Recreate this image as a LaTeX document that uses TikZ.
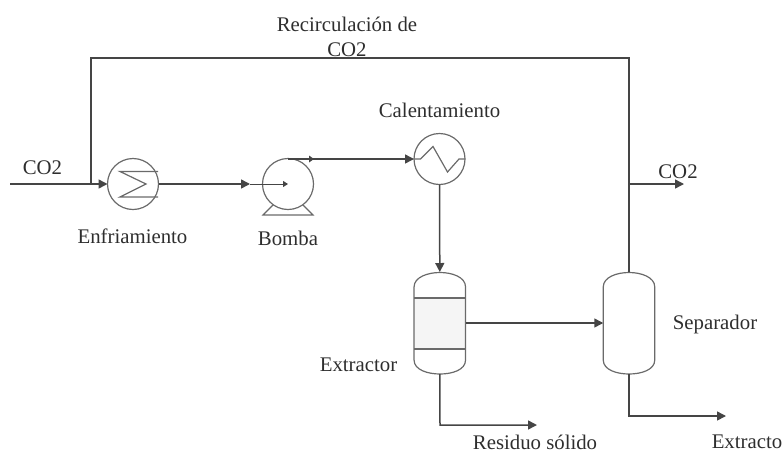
\documentclass[tikz,border=0pt]{standalone}
\usepackage{fontspec}
\setmainfont{Liberation Serif}
\usetikzlibrary{arrows.meta}
\definecolor{pipe}{HTML}{454545}
\definecolor{equip}{HTML}{6A6A6A}
\definecolor{txt}{HTML}{2E2E2E}
\tikzset{
  x=1pt,y=-1pt,
  pipeline/.style={draw=pipe,line width=1.5pt},
  flow/.style={pipeline,-{Triangle[length=9pt,width=9pt]}},
  thinflow/.style={draw=pipe,line width=1pt,-{Triangle[length=5pt,width=6pt]}},
  unit/.style={circle,draw=equip,line width=1.2pt,minimum size=51pt,inner sep=0pt,outer sep=0pt},
  vessel/.style={rectangle,minimum width=51.5pt,minimum height=102pt,inner sep=0pt,outer sep=0pt},
  equipline/.style={draw=equip,line width=1.2pt},
  label/.style={font=\fontsize{20.8}{25}\selectfont,text=txt,inner sep=0pt,align=center},
}
\begin{document}
\begin{tikzpicture}
\useasboundingbox (0,0) rectangle (783,453);
% units
\node[unit] (cool) at (133,184) {};
\node[unit] (pump) at (288,184) {};
\node[unit] (heat) at (439.5,159) {};
\node[vessel] (ext) at (439.8,323) {};
\node[vessel] (sep) at (629,323) {};
% extractor
\fill[black!4] (ext.west |- 0,298) rectangle (ext.east |- 0,349);
\draw[equipline] (ext.west |- 0,287) .. controls (ext.west |- 0,277) and (428,272.5) .. (440,272.5)
  .. controls (452,272.5) and (ext.east |- 0,277) .. (ext.east |- 0,287)
  -- (ext.east |- 0,360) .. controls (ext.east |- 0,370) and (452,374) .. (440,374)
  .. controls (428,374) and (ext.west |- 0,370) .. (ext.west |- 0,360) -- cycle;
\draw[equipline] (ext.west |- 0,298) -- (ext.east |- 0,298);
\draw[equipline] (ext.west |- 0,349) -- (ext.east |- 0,349);
% separator
\draw[equipline] (sep.west |- 0,287) .. controls (sep.west |- 0,277) and (617,272.5) .. (629,272.5)
  .. controls (641,272.5) and (sep.east |- 0,277) .. (sep.east |- 0,287)
  -- (sep.east |- 0,360) .. controls (sep.east |- 0,370) and (641,374) .. (629,374)
  .. controls (617,374) and (sep.west |- 0,370) .. (sep.west |- 0,360) -- cycle;
% cooler internals
\draw[equipline] (158,171.5) -- (120,171.5) -- (146,184) -- (120,197) -- (158,197);
% heater internals
\draw[equipline] (heat.west) -- (420.5,159) -- (433,146.5) -- (447.5,172) -- (459,159) -- (heat.east);
% pump feet
\draw[equipline] (273,205) -- (263,215) -- (313,215) -- (303,205);
% free ends
\coordinate (feed) at (10,184);
\coordinate (join) at (91,184);
\coordinate (topl) at (91,58);
\coordinate (topr) at (629,58);
\coordinate (tee) at (629,184);
\coordinate (co2out) at (684,184);
\coordinate (pumpin) at (250,184);
\coordinate (pumptop) at (288,159);
\coordinate (extbot) at (440,425);
\coordinate (resid) at (537,425);
\coordinate (sepbot) at (629,416);
\coordinate (extract) at (726,416);
% connectors
\draw[flow] (feed) -- (cool.west);
\draw[pipeline] (join) -- (topl) -- (topr) -- (sep.north);
\draw[flow] (tee) -- (co2out);
\draw[flow] (cool.east) -- (pumpin);
\draw[thinflow] (pumpin) -- (pump.center);
\draw[flow] (pumptop) -- (heat.west);
\fill[pipe] (309,155.5) -- (314,159) -- (309,162.5) -- cycle;
\draw[flow] (heat.south) -- (ext.north);
\draw[flow] (ext.east) -- (sep.west);
\draw[flow] (ext.south) -- (extbot) -- (resid);
\draw[flow] (sep.south) -- (sepbot) -- (extract);
% labels
\node[label] (lrec) at (347,37) {Recirculación de\\CO2};
\node[label] (lco2a) at (42.5,168) {CO2};
\node[label] (lenf) at (132.5,236) {Enfriamiento};
\node[label] (lbom) at (288,238) {Bomba};
\node[label] (lcal) at (439.5,110) {Calentamiento};
\node[label] (lco2b) at (678,172) {CO2};
\node[label] (lsep) at (715,324) {Separador};
\node[label] (lext) at (358.5,365) {Extractor};
\node[label] (lres) at (535,442.5) {Residuo sólido};
\node[label] (lextr) at (747,442) {Extracto};
\end{tikzpicture}
\end{document}
